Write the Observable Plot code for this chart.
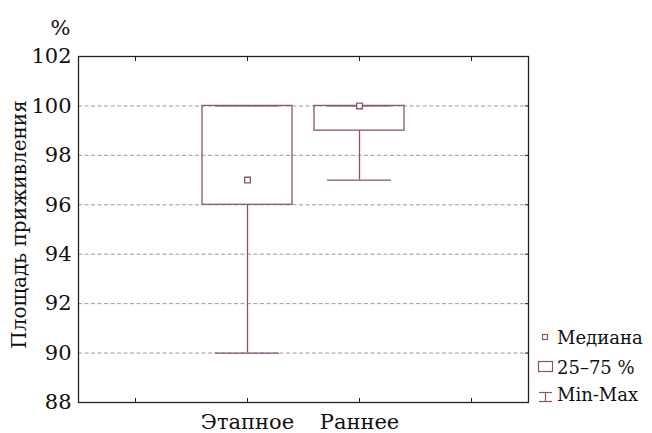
<!DOCTYPE html>
<html><head><meta charset="utf-8">
<script src="https://cdn.jsdelivr.net/npm/d3@7"></script>
<script src="https://cdn.jsdelivr.net/npm/@observablehq/plot@0.6"></script>
<style>
body{margin:0;background:#fff;}
#wrap{position:relative;width:652px;height:433px;}
#legend{position:absolute;left:0;top:0;pointer-events:none;}
</style></head><body><div id="wrap"></div>
<script>
const categories = ["Этапное", "Раннее"];
const minVals = [90, 97];
const q1Vals = [96, 99];
const medianVals = [97, 100];
const q3Vals = [100, 100];
const maxVals = [100, 100];
const yTicks = [88, 90, 92, 94, 96, 98, 100, 102];
const gridTicks = [90, 92, 94, 96, 98, 100];
const legendLabels = ["Медиана", "25–75 %", "Min-Max"];
const yTitle = "Площадь приживления";
const yUnit = "%";

const C = "#8e5560";
const FONT = "DejaVu Serif";
const data = categories.map((c, i) => ({cat: c, min: minVals[i], q1: q1Vals[i], med: medianVals[i], q3: q3Vals[i], max: maxVals[i]}));
const xDomain = ["pad-left", ...categories, "pad-right"];
const fmtX = d => categories.includes(d) ? d : "";

const chart = Plot.plot({
  width: 652, height: 433,
  marginLeft: 78, marginRight: 124, marginTop: 56, marginBottom: 31,
  style: {fontFamily: FONT, fontSize: "20px", color: "#111", background: "white"},
  x: {type: "band", domain: xDomain, padding: 0, axis: null},
  y: {domain: [88, 102], axis: null},
  marks: [
    Plot.ruleY(gridTicks, {stroke: "#9a9a9a", strokeDasharray: "4,2.5", strokeWidth: 1}),
    Plot.ruleX(data, {x: "cat", y1: "min", y2: "q1", stroke: C, strokeWidth: 1.3}),
    Plot.ruleX(data, {x: "cat", y1: "q3", y2: "max", stroke: C, strokeWidth: 1.3}),
    Plot.tickY(data, {x: "cat", y: "min", stroke: C, strokeWidth: 1.3, insetLeft: 24, insetRight: 24}),
    Plot.tickY(data, {x: "cat", y: "max", stroke: C, strokeWidth: 1.3, insetLeft: 24, insetRight: 24}),
    Plot.barY(data, {x: "cat", y1: "q1", y2: "q3", fill: "none", stroke: C, strokeWidth: 1.3, insetLeft: 11, insetRight: 11}),
    Plot.dot(data, {x: "cat", y: "med", symbol: "square", r: 3.2, stroke: C, fill: "white", strokeWidth: 1.3}),
    Plot.frame({stroke: "#222", strokeWidth: 1.3}),
    Plot.axisY(yTicks, {anchor: "left", tickSize: 0, tickPadding: 7, fontSize: 21, label: null}),
    Plot.axisY(gridTicks, {anchor: "right", tickSize: 4, dx: -4, tickFormat: () => "", label: null, stroke: "#222"}),
    Plot.axisX({anchor: "bottom", tickSize: 0, tickPadding: 12, tickFormat: fmtX, fontSize: 21, label: null}),
    Plot.axisX({anchor: "bottom", tickSize: 4, dy: -4, tickFormat: () => "", label: null, stroke: "#222"}),
    Plot.axisX({anchor: "top", tickSize: 4, dy: 4, tickFormat: () => "", label: null, stroke: "#222"}),
    Plot.text([yUnit], {frameAnchor: "top-left", dx: -8, dy: -36, textAnchor: "end", fontSize: 21}),
    Plot.text([yTitle], {frameAnchor: "left", rotate: -90, textAnchor: "middle", dx: -59, dy: -5, fontSize: 20})
  ]
});
const wrap = document.getElementById("wrap");
wrap.appendChild(chart);

// legend
const svg = d3.select(wrap).append("svg").attr("id", "legend").attr("width", 652).attr("height", 433)
  .style("font-family", FONT).style("font-size", "18px");
const baselines = [344, 374, 401];
svg.append("rect").attr("x", 542.5).attr("y", 334.5).attr("width", 5).attr("height", 5)
  .attr("fill", "white").attr("stroke", C).attr("stroke-width", 1.2);
svg.append("rect").attr("x", 538.5).attr("y", 361.5).attr("width", 14).attr("height", 10)
  .attr("fill", "white").attr("stroke", C).attr("stroke-width", 1.2);
const g = svg.append("g").attr("stroke", C).attr("stroke-width", 1.2);
g.append("line").attr("x1", 539).attr("x2", 552).attr("y1", 392.5).attr("y2", 392.5);
g.append("line").attr("x1", 539).attr("x2", 552).attr("y1", 401.5).attr("y2", 401.5);
g.append("line").attr("x1", 545.5).attr("x2", 545.5).attr("y1", 392.5).attr("y2", 401.5);
svg.selectAll("text.lg").data(legendLabels).join("text").attr("class", "lg")
  .attr("x", 557).attr("y", (d, i) => baselines[i]).attr("fill", "#111").text(d => d);
</script>
</body></html>
